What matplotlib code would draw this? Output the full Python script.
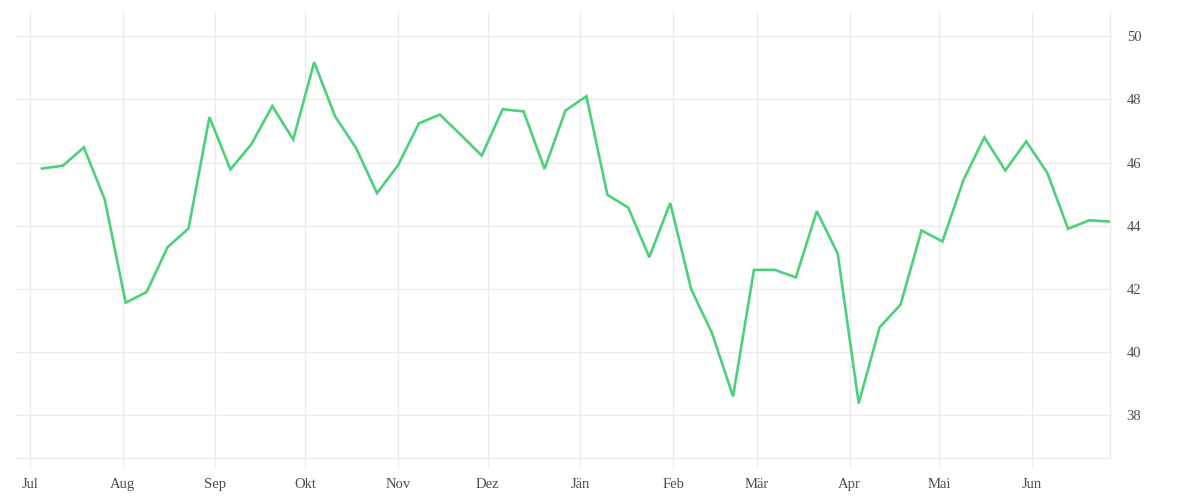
import datetime as dt

import matplotlib
matplotlib.use("Agg")
import matplotlib.pyplot as plt
import matplotlib.dates as mdates

# weekly values (Jul 5 .. Jun 27)
start = dt.date(2018, 7, 5)
values = [45.81, 45.90, 46.48, 44.83, 41.56, 41.90, 43.32, 43.91, 47.44, 45.78,
          46.58, 47.79, 46.73, 49.18, 47.46, 46.46, 45.03, 45.91, 47.24, 47.52,
          46.88, 46.22, 47.69, 47.62, 45.80, 47.65, 48.10, 44.98, 44.57, 43.00,
          44.72, 41.99, 40.59, 38.59, 42.60, 42.60, 42.36, 44.46, 43.11, 38.37,
          40.78, 41.50, 43.85, 43.50, 45.44, 46.80, 45.75, 46.67, 45.68, 43.90,
          44.17, 44.13]
dates = [start + dt.timedelta(weeks=i) for i in range(len(values))]

month_labels = ["Jul", "Aug", "Sep", "Okt", "Nov", "Dez",
                "Jän", "Feb", "Mär", "Apr", "Mai", "Jun"]
month_ticks = [dt.date(2018 + (6 + i) // 12, (6 + i) % 12 + 1, 1) for i in range(12)]
y_ticks = [38, 40, 42, 44, 46, 48, 50]

grid_col = "#ebebeb"
text_col = "#4d4d4d"
line_col = "#4cd17b"

plt.rcParams["font.family"] = ["Liberation Serif", "DejaVu Serif"]

fig = plt.figure(figsize=(12, 5), dpi=100)
ax = fig.add_axes([0.0125, 0.0834, 0.9125, 0.8926])

ax.plot(dates, values, color=line_col, lw=1.9, solid_joinstyle="miter", zorder=3)

ax.set_xlim(dt.date(2018, 6, 26), dates[-1])
ax.set_ylim(36.63, 50.77)

ax.set_xticks(month_ticks)
ax.set_xticklabels(month_labels)
ax.set_yticks(y_ticks)
ax.yaxis.tick_right()

ax.grid(True, color=grid_col, lw=1, zorder=0)
for s in ["top", "left"]:
    ax.spines[s].set_visible(False)
for s in ["bottom", "right"]:
    ax.spines[s].set_color(grid_col)
    ax.spines[s].set_linewidth(1)

ax.tick_params(axis="x", length=6.5, width=1, color=grid_col, pad=8,
               labelsize=10.5, labelcolor=text_col)
ax.tick_params(axis="y", length=0, pad=12, labelsize=10.5, labelcolor=text_col)

fig.savefig("out.png", dpi=100, facecolor="white")
